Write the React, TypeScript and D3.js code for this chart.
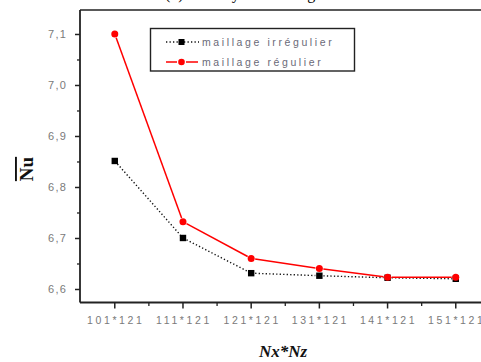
import React from "react";
import * as d3 from "d3";

const categories = ["101*121", "111*121", "121*121", "131*121", "141*121", "151*121"];
const irregular = [6.852, 6.701, 6.632, 6.627, 6.623, 6.621];
const regular = [7.101, 6.733, 6.661, 6.641, 6.624, 6.624];
const yTicks = [6.6, 6.7, 6.8, 6.9, 7.0, 7.1];
const yMinor = [6.65, 6.75, 6.85, 6.95, 7.05];
const seriesNames = ["maillage irrégulier", "maillage régulier"];

const W = 481, H = 362;
const left = 80, top = 10, bottom = 302.5;

export default function App() {
  const x = d3.scaleLinear().domain([-0.51, 5.37]).range([left, W]);
  const y = d3.scaleLinear().domain([6.5745, 7.148]).range([bottom, top]);
  const xMinor = d3.range(0, categories.length).map((i) => i + 0.5);

  const gapSegments = (vals: number[], gap: number) => {
    const segs: string[] = [];
    for (let i = 0; i < vals.length - 1; i++) {
      const x1 = x(i), y1 = y(vals[i]), x2 = x(i + 1), y2 = y(vals[i + 1]);
      const dx = x2 - x1, dy = y2 - y1, L = Math.hypot(dx, dy);
      const ux = dx / L, uy = dy / L;
      const line = d3.line()([
        [x1 + ux * gap, y1 + uy * gap],
        [x2 - ux * gap, y2 - uy * gap],
      ]);
      if (line) segs.push(line);
    }
    return segs;
  };

  const tickFont = "Arial, 'Liberation Sans', sans-serif";

  return (
    <svg width={W} height={H} style={{ position: "absolute", left: 0, top: 0, background: "#fff" }}>
      <rect width={W} height={H} fill="#fff" />
      {/* partial title, cut off at top as in the reference */}
      <text x={165} y={-1} fontFamily="'Liberation Serif', serif" fontSize={16} fill="#000">
        (b) Nu moyen : maillage
      </text>
      {/* frame */}
      <line x1={left} x2={W} y1={top} y2={top} stroke="#222" strokeWidth={1.6} />
      <line x1={left} x2={left} y1={top} y2={bottom} stroke="#222" strokeWidth={1.8} />
      <line x1={left} x2={W} y1={bottom} y2={bottom} stroke="#222" strokeWidth={1.8} />
      {/* y ticks */}
      {yTicks.map((t) => (
        <g key={t}>
          <line x1={left - 5} x2={left} y1={y(t)} y2={y(t)} stroke="#222" strokeWidth={1.5} />
          <text
            x={left - 13}
            y={y(t)}
            dy="0.35em"
            textAnchor="end"
            fontFamily={tickFont}
            fontSize={11}
            letterSpacing={1.2}
            fill="#7a7a7a"
          >
            {t.toFixed(1).replace(".", ",")}
          </text>
        </g>
      ))}
      {yMinor.map((t) => (
        <line key={t} x1={left - 3} x2={left} y1={y(t)} y2={y(t)} stroke="#222" strokeWidth={1.3} />
      ))}
      {/* x ticks */}
      {categories.map((c, i) => (
        <g key={c}>
          <line x1={x(i)} x2={x(i)} y1={bottom} y2={bottom + 6} stroke="#222" strokeWidth={1.5} />
          <text
            x={x(i) + 1}
            y={bottom + 21}
            textAnchor="middle"
            fontFamily={tickFont}
            fontSize={10.5}
            letterSpacing={2.6}
            fill="#7a7a7a"
          >
            {c}
          </text>
        </g>
      ))}
      {xMinor.map((t) => (
        <line key={t} x1={x(t)} x2={x(t)} y1={bottom} y2={bottom + 3.5} stroke="#222" strokeWidth={1.3} />
      ))}
      {/* axis titles */}
      <text
        x={283}
        y={357}
        textAnchor="middle"
        fontFamily="'Liberation Serif', 'Times New Roman', serif"
        fontStyle="italic"
        fontWeight="bold"
        fontSize={17}
        fill="#111"
      >
        Nx*Nz
      </text>
      <text
        transform="translate(33,169) rotate(-90)"
        textAnchor="middle"
        fontFamily="'Liberation Serif', 'Times New Roman', serif"
        fontWeight="bold"
        fontSize={19}
        fill="#111"
        style={{ textDecoration: "overline" }}
      >
        Nu
      </text>
      {/* series: irregular */}
      {gapSegments(irregular, 4).map((d, i) => (
        <path key={"i" + i} d={d} fill="none" stroke="#111" strokeWidth={1.4} strokeDasharray="1.3,2.2" />
      ))}
      {irregular.map((v, i) => (
        <rect key={"ir" + i} x={x(i) - 3.2} y={y(v) - 3.2} width={6.4} height={6.4} fill="#000" />
      ))}
      {/* series: regular */}
      {gapSegments(regular, 4).map((d, i) => (
        <path key={"r" + i} d={d} fill="none" stroke="#ff0000" strokeWidth={1.5} />
      ))}
      {regular.map((v, i) => (
        <circle key={"rc" + i} cx={x(i)} cy={y(v)} r={3.5} fill="#ff0000" />
      ))}
      {/* legend */}
      <rect x={150.5} y={28.5} width={204} height={42.5} fill="#fff" stroke="#222" strokeWidth={1.4} />
      <line x1={166} x2={178} y1={42} y2={42} stroke="#111" strokeWidth={1.4} strokeDasharray="1.3,2.2" />
      <line x1={184} x2={199} y1={42} y2={42} stroke="#111" strokeWidth={1.4} strokeDasharray="1.3,2.2" />
      <rect x={178.5} y={39} width={6} height={6} fill="#000" />
      <line x1={166} x2={177} y1={62} y2={62} stroke="#ff0000" strokeWidth={1.5} />
      <line x1={186} x2={198} y1={62} y2={62} stroke="#ff0000" strokeWidth={1.5} />
      <circle cx={181.5} cy={62} r={3.3} fill="#ff0000" />
      {seriesNames.map((s, i) => (
        <text
          key={s}
          x={202}
          y={42 + i * 20}
          dy="0.35em"
          fontFamily={tickFont}
          fontSize={10.5}
          letterSpacing={2.6}
          fill="#6a6a78"
        >
          {s}
        </text>
      ))}
    </svg>
  );
}
